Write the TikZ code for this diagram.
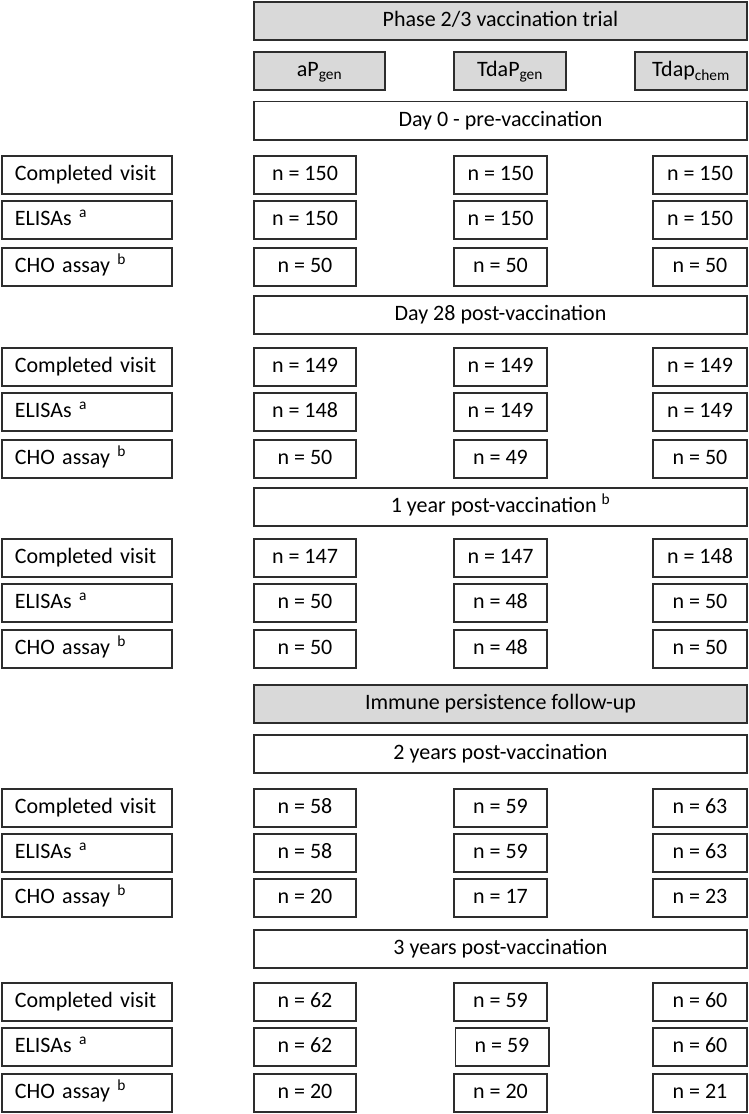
\documentclass[tikz,border=0pt]{standalone}
\usepackage{fontspec}
\setmainfont{Carlito}
\usetikzlibrary{positioning}
\definecolor{boxLine}{RGB}{45,45,45}
\definecolor{boxGray}{RGB}{217,217,217}
\tikzset{
    base/.style={rectangle, draw=boxLine, line width=1.8pt, inner sep=0pt,
                 text height=15pt, text depth=4pt,
                 minimum height=38.2pt, font=\fontsize{22}{26}\selectfont},
    banner/.style={base, fill=#1, minimum width=493.2pt},
    banner/.default=white,
    arm/.style={base, fill=boxGray, minimum width=#1},
    cat/.style={base, fill=white, text width=144.2pt, inner xsep=13pt, align=left},
    cnt/.style={base, fill=white, minimum width=#1},
    cnt/.default=94.2pt
}

\begin{document}
\begin{tikzpicture}[x=1pt, y=-1pt]
    \useasboundingbox (0,0) rectangle (749,1114);

    % trial header and study arms
    \node[banner=boxGray] (trial) at (500.5,21) {Phase 2/3 vaccination trial};
    \node[arm=131.2pt] (apgen) at (319.5,71) {aP\textsubscript{gen}};
    \node[arm=112.2pt] (tdapgen) at (510,71) {TdaP\textsubscript{gen}};
    \node[arm=112.2pt] (tdapchem) at (691,71) {Tdap\textsubscript{chem}};

    % day 0
    \node[banner] (day0) at (500.5,120.5) {Day 0 - pre-vaccination};
    \node[cat] (visit1) at (87,175) {Completed visit};
    \node[cnt=102.2pt] (visit1ap) at (305,175) {n = 150};
    \node[cnt=93.2pt] (visit1tdap) at (500.5,175) {n = 150};
    \node[cnt] (visit1chem) at (700,175) {n = 150};
    \node[cat] (elisa1) at (87,220) {ELISAs \textsuperscript{a}};
    \node[cnt=102.2pt] (elisa1ap) at (305,220) {n = 150};
    \node[cnt=93.2pt] (elisa1tdap) at (500.5,220) {n = 150};
    \node[cnt] (elisa1chem) at (700,220) {n = 150};
    \node[cat] (cho1) at (87,267) {CHO assay \textsuperscript{b}};
    \node[cnt=102.2pt] (cho1ap) at (305,267) {n = 50};
    \node[cnt=93.2pt] (cho1tdap) at (500.5,267) {n = 50};
    \node[cnt] (cho1chem) at (700,267) {n = 50};

    % day 28
    \node[banner] (day28) at (500.5,315) {Day 28 post-vaccination};
    \node[cat] (visit2) at (87,367) {Completed visit};
    \node[cnt=102.2pt] (visit2ap) at (305,367) {n = 149};
    \node[cnt=93.2pt] (visit2tdap) at (500.5,367) {n = 149};
    \node[cnt] (visit2chem) at (700,367) {n = 149};
    \node[cat] (elisa2) at (87,412) {ELISAs \textsuperscript{a}};
    \node[cnt=102.2pt] (elisa2ap) at (305,412) {n = 148};
    \node[cnt=93.2pt] (elisa2tdap) at (500.5,412) {n = 149};
    \node[cnt] (elisa2chem) at (700,412) {n = 149};
    \node[cat] (cho2) at (87,459) {CHO assay \textsuperscript{b}};
    \node[cnt=102.2pt] (cho2ap) at (305,459) {n = 50};
    \node[cnt=93.2pt] (cho2tdap) at (500.5,459) {n = 49};
    \node[cnt] (cho2chem) at (700,459) {n = 50};

    % 1 year
    \node[banner] (year1) at (500.5,507) {1 year post-vaccination \textsuperscript{b}};
    \node[cat] (visit3) at (87,558) {Completed visit};
    \node[cnt=102.2pt] (visit3ap) at (305,558) {n = 147};
    \node[cnt=93.2pt] (visit3tdap) at (500.5,558) {n = 147};
    \node[cnt] (visit3chem) at (700,558) {n = 148};
    \node[cat] (elisa3) at (87,603) {ELISAs \textsuperscript{a}};
    \node[cnt=102.2pt] (elisa3ap) at (305,603) {n = 50};
    \node[cnt=93.2pt] (elisa3tdap) at (500.5,603) {n = 48};
    \node[cnt] (elisa3chem) at (700,603) {n = 50};
    \node[cat] (cho3) at (87,649) {CHO assay \textsuperscript{b}};
    \node[cnt=102.2pt] (cho3ap) at (305,649) {n = 50};
    \node[cnt=93.2pt] (cho3tdap) at (500.5,649) {n = 48};
    \node[cnt] (cho3chem) at (700,649) {n = 50};

    % follow-up header
    \node[banner=boxGray] (followup) at (500.5,704) {Immune persistence follow-up};

    % 2 years
    \node[banner] (year2) at (500.5,754) {2 years post-vaccination};
    \node[cat] (visit4) at (87,808) {Completed visit};
    \node[cnt=102.2pt] (visit4ap) at (305,808) {n = 58};
    \node[cnt=93.2pt] (visit4tdap) at (500.5,808) {n = 59};
    \node[cnt] (visit4chem) at (700,808) {n = 63};
    \node[cat] (elisa4) at (87,853) {ELISAs \textsuperscript{a}};
    \node[cnt=102.2pt] (elisa4ap) at (305,853) {n = 58};
    \node[cnt=93.2pt] (elisa4tdap) at (500.5,853) {n = 59};
    \node[cnt] (elisa4chem) at (700,853) {n = 63};
    \node[cat] (cho4) at (87,898) {CHO assay \textsuperscript{b}};
    \node[cnt=102.2pt] (cho4ap) at (305,898) {n = 20};
    \node[cnt=93.2pt] (cho4tdap) at (500.5,898) {n = 17};
    \node[cnt] (cho4chem) at (700,898) {n = 23};

    % 3 years
    \node[banner] (year3) at (500.5,949) {3 years post-vaccination};
    \node[cat] (visit5) at (87,1002) {Completed visit};
    \node[cnt=102.2pt] (visit5ap) at (305,1002) {n = 62};
    \node[cnt=93.2pt] (visit5tdap) at (500.5,1002) {n = 59};
    \node[cnt] (visit5chem) at (700,1002) {n = 60};
    \node[cat] (elisa5) at (87,1047) {ELISAs \textsuperscript{a}};
    \node[cnt=102.2pt] (elisa5ap) at (305,1047) {n = 62};
    \node[cnt=93.2pt] (elisa5tdap) at (502,1047) {n = 59};
    \node[cnt] (elisa5chem) at (700,1047) {n = 60};
    \node[cat] (cho5) at (87,1093) {CHO assay \textsuperscript{b}};
    \node[cnt=102.2pt] (cho5ap) at (305,1093) {n = 20};
    \node[cnt=93.2pt] (cho5tdap) at (500.5,1093) {n = 20};
    \node[cnt] (cho5chem) at (700,1093) {n = 21};
\end{tikzpicture}
\end{document}
